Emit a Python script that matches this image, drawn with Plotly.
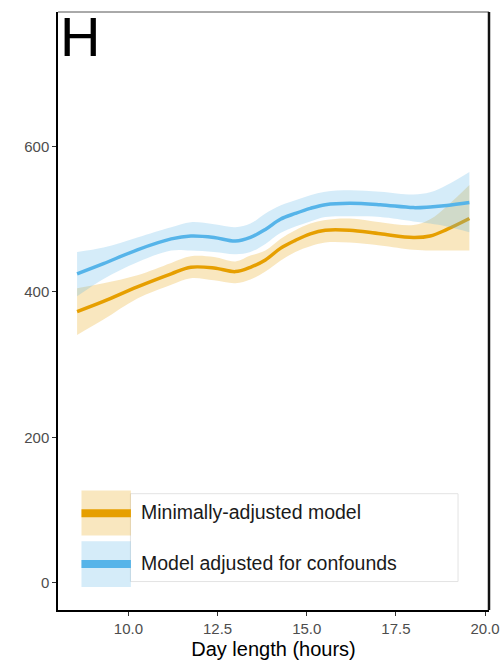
import plotly.graph_objects as go

# Smoothed fit of the outcome against day length, with 95% confidence bands
day_length = [8.56, 9.3, 10.25, 11.2, 11.75, 12.4, 13.0, 13.42, 13.84, 14.26,
              14.68, 15.1, 15.52, 16.2, 17.06, 17.99, 18.46, 18.93, 19.56]

min_fit = [373, 387, 407, 425, 434, 433, 428, 434, 444, 460,
           471, 480, 485, 485, 480, 475, 477, 486, 501]
min_lo = [341, 362, 391, 410, 419, 416, 412, 417, 428, 443,
          455, 463, 468, 468, 464, 458, 457, 457, 457]
min_hi = [405, 412, 423, 440, 449, 448, 442, 450, 457, 473,
          485, 494, 499, 501, 496, 492, 500, 518, 547]

conf_fit = [425, 439, 458, 473, 477, 475, 470, 475, 486, 500,
            508, 515, 520, 522, 520, 516, 517, 519, 523]
conf_lo = [394, 418, 441, 457, 457, 455, 452, 455, 466, 481,
           490, 497, 503, 504, 503, 497, 494, 490, 482]
conf_hi = [455, 461, 475, 489, 496, 493, 489, 494, 508, 519,
           526, 533, 538, 540, 538, 534, 537, 547, 565]

series_names = ["Minimally-adjusted model", "Model adjusted for confounds"]
x_ticks = [10.0, 12.5, 15.0, 17.5, 20.0]
y_ticks = [0, 200, 400, 600]
panel_label = "H"
x_title = "Day length (hours)"

ORANGE = "#E69F00"
BLUE = "#56B4E9"
ORANGE_BAND = "rgba(230,159,0,0.25)"
BLUE_BAND = "rgba(86,180,233,0.25)"
FONT = "Liberation Sans, Arial, sans-serif"

W, H = 504, 666
L, R, T, B = 57.5, 489, 11.5, 610.5


def px(x):
    return (x - L) / (R - L)


def py(y):
    return (B - y) / (B - T)


fig = go.Figure()

def add_series(fit, lo, hi, line_color, band_color, name):
    fig.add_trace(go.Scatter(x=day_length, y=lo, mode="lines",
                             line=dict(width=0, shape="spline", color=band_color),
                             showlegend=False, hoverinfo="skip"))
    fig.add_trace(go.Scatter(x=day_length, y=hi, mode="lines", fill="tonexty",
                             fillcolor=band_color,
                             line=dict(width=0, shape="spline", color=band_color),
                             showlegend=False, hoverinfo="skip"))
    fig.add_trace(go.Scatter(x=day_length, y=fit, mode="lines", name=name,
                             line=dict(width=3.5, shape="spline", color=line_color),
                             showlegend=False))

add_series(min_fit, min_lo, min_hi, ORANGE, ORANGE_BAND, series_names[0])
add_series(conf_fit, conf_lo, conf_hi, BLUE, BLUE_BAND, series_names[1])

shapes = []
annotations = []

# frame: top thin grey, right heavier black
shapes.append(dict(type="line", xref="paper", yref="paper", x0=0, x1=1, y0=1, y1=1,
                   line=dict(color="#555555", width=1)))
shapes.append(dict(type="line", xref="paper", yref="paper", x0=1, x1=1, y0=0, y1=1,
                   line=dict(color="#111111", width=2.5)))

# hand-built legend
shapes.append(dict(type="rect", xref="paper", yref="paper",
                   x0=px(130), x1=px(458), y0=py(582), y1=py(494),
                   line=dict(color="#e3e3e3", width=1), fillcolor="white", layer="above"))
legend_rows = [(490.7, 536, 513.5, ORANGE, ORANGE_BAND),
               (541.7, 587.5, 564.5, BLUE, BLUE_BAND)]
for (top, bot, mid, lc, bc), name in zip(legend_rows, series_names):
    shapes.append(dict(type="rect", xref="paper", yref="paper",
                       x0=px(81), x1=px(130.5), y0=py(bot), y1=py(top),
                       line=dict(width=0), fillcolor=bc, layer="above"))
    shapes.append(dict(type="line", xref="paper", yref="paper",
                       x0=px(81), x1=px(130.5), y0=py(mid), y1=py(mid),
                       line=dict(color=lc, width=8), layer="above"))
    annotations.append(dict(text=name, xref="paper", yref="paper",
                            x=px(139), y=py(mid - 1.5), xanchor="left", yanchor="middle",
                            showarrow=False, font=dict(family=FONT, size=19.5, color="#1a1a1a")))

annotations.append(dict(text=panel_label, xref="paper", yref="paper",
                        x=px(57), y=py(36), xanchor="left", yanchor="middle",
                        showarrow=False, font=dict(family=FONT, size=56, color="black")))

fig.update_layout(
    width=W, height=H,
    margin=dict(l=L, r=W - R, t=T, b=H - B, autoexpand=False),
    paper_bgcolor="white", plot_bgcolor="white",
    showlegend=False,
    shapes=shapes, annotations=annotations,
    font=dict(family=FONT),
)
fig.update_xaxes(range=[8.025, 20.11], tickvals=x_ticks,
                 ticktext=[f"{v:.1f}" for v in x_ticks],
                 showgrid=False, zeroline=False, automargin=False,
                 showline=True, linecolor="black", linewidth=1.5,
                 ticks="outside", ticklen=4, tickwidth=1.2, tickcolor="#333333",
                 tickfont=dict(size=15, color="#4d4d4d", family=FONT),
                 title=dict(text=x_title, font=dict(size=20, color="black", family=FONT),
                            standoff=6))
fig.update_yaxes(range=[-37.3, 785], tickvals=y_ticks,
                 showgrid=False, zeroline=False, automargin=False,
                 showline=True, linecolor="black", linewidth=1.5,
                 ticks="outside", ticklen=4, tickwidth=1.2, tickcolor="#333333",
                 tickfont=dict(size=15, color="#4d4d4d", family=FONT))

fig.write_html("out.html")
